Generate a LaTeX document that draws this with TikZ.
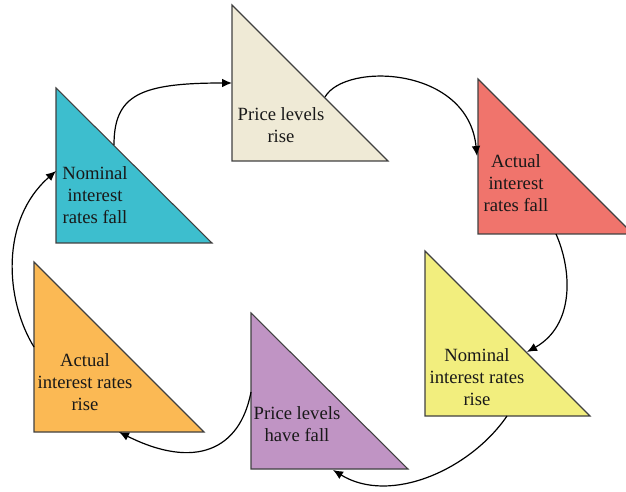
\documentclass[tikz,border=0pt]{standalone}
\usepackage{fontspec}
\setmainfont{Liberation Serif}
\usetikzlibrary{arrows.meta}
\definecolor{cyanT}{RGB}{61,190,206}
\definecolor{beigeT}{RGB}{239,234,214}
\definecolor{redT}{RGB}{240,116,108}
\definecolor{yellowT}{RGB}{242,238,126}
\definecolor{purpleT}{RGB}{192,148,196}
\definecolor{orangeT}{RGB}{251,185,84}
\definecolor{edgeT}{RGB}{64,64,64}
\tikzset{
  tri/.style={draw=edgeT, line width=0.8pt, line join=miter},
  lbl/.style={align=center, font=\fontsize{14}{16.5}\selectfont, inner sep=0pt, text=black!90},
  conn/.style={draw=black, line width=0.9pt, -{Latex[length=7.5pt,width=6.5pt]}}
}
\begin{document}
\begin{tikzpicture}[x=0.75pt, y=-0.75pt]
\useasboundingbox (0,0) rectangle (626,492);
% triangles
\filldraw[tri, fill=cyanT]   (56,88) -- (56,243) -- (212,243) -- cycle;
\filldraw[tri, fill=beigeT]  (232,5) -- (232,161) -- (388,161) -- cycle;
\filldraw[tri, fill=redT]    (478,79) -- (478,234) -- (633,234) -- cycle;
\filldraw[tri, fill=yellowT] (425,251) -- (425,416) -- (590,416) -- cycle;
\filldraw[tri, fill=purpleT] (251,313) -- (251,469) -- (408,469) -- cycle;
\filldraw[tri, fill=orangeT] (34,262) -- (34,432) -- (204,432) -- cycle;
% labels
\node[lbl] (n1) at (95,195) {Nominal\\interest\\rates fall};
\node[lbl] (n2) at (281,125) {Price levels\\rise};
\node[lbl] (n3) at (516,183) {Actual\\interest\\rates fall};
\node[lbl] (n4) at (477,377) {Nominal\\interest rates\\rise};
\node[lbl] (n5) at (297,424) {Price levels\\have fall};
\node[lbl] (n6) at (85,382) {Actual\\interest rates\\rise};
% connector end points on the triangle edges
\coordinate (o1) at (114,145);
\coordinate (i2) at (232,83);
\coordinate (o2) at (325,97);
\coordinate (i3) at (477,156);
\coordinate (o3) at (556,234);
\coordinate (i4) at (527,352);
\coordinate (o4) at (507,416);
\coordinate (i5) at (333,470);
\coordinate (o5) at (251,392);
\coordinate (i6) at (119,432);
\coordinate (o6) at (34,347);
\coordinate (i1) at (56,171);
% connectors
\draw[conn] (o1) .. controls (114,95) and (140,83) .. (i2);
\draw[conn] (o2) .. controls (345,62) and (468,66) .. (i3);
\draw[conn] (o3) .. controls (572,270) and (575,325) .. (i4);
\draw[conn] (o4) .. controls (470,470) and (390,505) .. (i5);
\draw[conn] (o5) .. controls (240,450) and (195,470) .. (i6);
\draw[conn] (o6) .. controls (5,300) and (0,220) .. (i1);
\end{tikzpicture}
\end{document}
